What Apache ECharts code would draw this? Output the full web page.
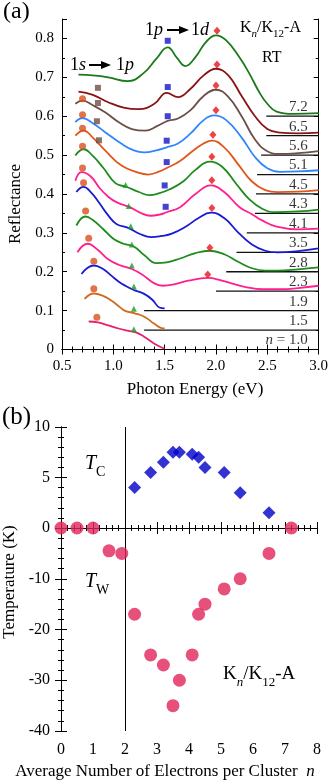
<!DOCTYPE html>
<html><head><meta charset="utf-8">
<script src="https://cdn.jsdelivr.net/npm/echarts/dist/echarts.min.js"></script>
<style>html,body{margin:0;padding:0;background:#fff;}#c{width:331px;height:784px;}</style>
</head><body><div id="c"></div>
<script>
// ---------- Panel (a): reflectance spectra ----------
const nLabels   = ['7.2','6.5','5.6','5.1','4.5','4.3','4.1','3.5','2.8','2.3','1.9','1.5','1.0'];
const baseOffset= [0.60,0.55,0.50,0.45,0.40,0.35,0.30,0.25,0.20,0.15,0.10,0.05,0.00];
const baseStart = [2.49,2.49,2.44,2.40,2.39,2.38,2.30,2.20,2.10,2.00,1.30,1.30,null];

const e72=[0.66,0.80,0.95,1.14,1.30,1.42,1.53,1.62,1.70,1.80,1.90,2.00,2.10,2.23,2.32,2.43,2.50,2.59,2.75,3.00];
const r72=[0.707,0.705,0.700,0.690,0.712,0.748,0.777,0.750,0.729,0.752,0.790,0.808,0.795,0.751,0.712,0.658,0.632,0.612,0.606,0.608];
const e65=[0.66,0.80,0.95,1.10,1.25,1.40,1.52,1.63,1.75,1.88,2.00,2.12,2.25,2.38,2.50,2.62,2.80,3.00];
const r65=[0.663,0.655,0.636,0.622,0.618,0.632,0.660,0.649,0.670,0.705,0.722,0.705,0.652,0.600,0.567,0.558,0.556,0.558];
const e56=[0.63,0.70,0.80,0.92,1.05,1.18,1.31,1.43,1.53,1.63,1.75,1.88,2.00,2.12,2.25,2.38,2.50,2.62,2.80,3.00];
const r56=[0.632,0.640,0.628,0.610,0.585,0.567,0.563,0.575,0.588,0.594,0.615,0.652,0.668,0.650,0.600,0.540,0.510,0.503,0.505,0.510];
const e51=[0.63,0.70,0.80,0.92,1.08,1.20,1.30,1.42,1.52,1.63,1.75,1.88,1.98,2.10,2.25,2.38,2.50,2.62,2.80,3.00];
const r51=[0.585,0.595,0.582,0.559,0.529,0.512,0.507,0.512,0.520,0.530,0.555,0.590,0.602,0.590,0.545,0.495,0.466,0.457,0.458,0.461];
const e45=[0.63,0.71,0.80,0.92,1.08,1.24,1.34,1.45,1.53,1.65,1.78,1.88,1.96,2.08,2.22,2.35,2.48,2.60,2.80,3.00];
const r45=[0.550,0.563,0.545,0.512,0.473,0.455,0.450,0.458,0.468,0.485,0.512,0.530,0.537,0.520,0.475,0.432,0.410,0.405,0.406,0.410];
const e43=[0.63,0.71,0.80,0.90,1.02,1.13,1.25,1.35,1.45,1.55,1.68,1.80,1.94,2.06,2.20,2.33,2.45,2.58,2.80,3.00];
const r43=[0.499,0.515,0.498,0.468,0.428,0.418,0.405,0.397,0.402,0.412,0.432,0.462,0.483,0.470,0.425,0.385,0.362,0.353,0.355,0.360];
const e41=[0.63,0.69,0.78,0.87,0.95,1.03,1.16,1.26,1.36,1.45,1.52,1.65,1.80,1.95,2.08,2.23,2.35,2.45,2.59,2.80,3.00];
const r41=[0.434,0.456,0.445,0.414,0.393,0.379,0.366,0.352,0.344,0.347,0.353,0.366,0.400,0.422,0.405,0.366,0.348,0.332,0.316,0.309,0.311];
const e35=[0.64,0.71,0.78,0.86,0.95,1.03,1.15,1.26,1.37,1.47,1.57,1.70,1.83,1.95,2.08,2.22,2.35,2.48,2.60,2.80,3.00];
const r35=[0.405,0.418,0.405,0.378,0.345,0.323,0.312,0.297,0.289,0.292,0.298,0.315,0.338,0.352,0.338,0.300,0.270,0.254,0.250,0.253,0.260];
const e28=[0.64,0.73,0.80,0.90,1.00,1.10,1.20,1.30,1.42,1.52,1.65,1.80,1.94,2.08,2.22,2.35,2.48,2.60,2.80,3.00];
const r28=[0.319,0.342,0.333,0.310,0.285,0.272,0.265,0.243,0.222,0.224,0.234,0.248,0.254,0.245,0.225,0.209,0.203,0.203,0.206,0.211];
const e23=[0.65,0.75,0.85,0.95,1.05,1.18,1.28,1.40,1.48,1.60,1.73,1.92,2.05,2.15,2.30,2.45,2.64,2.80,3.00];
const r23=[0.250,0.272,0.256,0.232,0.218,0.207,0.193,0.170,0.164,0.168,0.177,0.184,0.178,0.170,0.160,0.155,0.155,0.158,0.164];
const e19=[0.69,0.75,0.81,0.90,0.98,1.05,1.11,1.20,1.30,1.38,1.45,1.50];
const r19=[0.194,0.210,0.216,0.207,0.190,0.175,0.165,0.153,0.143,0.128,0.108,0.106];
const e15=[0.72,0.81,0.90,0.98,1.05,1.11,1.21,1.31,1.40,1.47,1.50];
const r15=[0.130,0.144,0.138,0.126,0.112,0.100,0.093,0.083,0.066,0.055,0.054];
const e10=[0.76,0.85,0.95,1.05,1.15,1.22,1.30,1.40,1.50];
const r10=[0.072,0.070,0.062,0.054,0.048,0.044,0.033,0.015,0.002];

// markers
const diaE=[2.01,2.01,2.00,2.00,1.97,1.96,1.96,1.96,1.94,1.92];
const diaR=[0.820,0.733,0.679,0.615,0.552,0.496,0.435,0.364,0.262,0.193];
const bsqE=[1.53,1.53,1.53,1.52,1.52,1.50,1.51];
const bsqR=[0.794,0.675,0.600,0.537,0.482,0.422,0.367];
const brsqE=[0.85,0.85,0.84,0.86];
const brsqR=[0.673,0.634,0.587,0.538];
const circE=[0.70,0.70,0.70,0.70,0.70,0.71,0.73,0.76,0.81,0.81,0.84];
const circR=[0.645,0.604,0.569,0.523,0.467,0.429,0.356,0.286,0.227,0.156,0.083];
const triE=[1.12,1.15,1.17,1.18,1.18,1.20,1.20,1.20];
const triR=[0.423,0.369,0.317,0.270,0.216,0.162,0.105,0.052];

// ---------- Panel (b): transition temperatures ----------
const tcN=[2.3,2.8,3.2,3.5,3.7,4.1,4.3,4.5,5.1,5.6,6.5];
const tcT=[4.0,5.5,6.5,7.5,7.5,7.3,7.0,6.0,5.5,3.5,1.5];
const twN=[0,0.5,1.0,1.5,1.9,2.3,2.8,3.2,3.5,3.7,4.1,4.3,4.5,5.1,5.6,6.5,7.2];
const twT=[0,0,0,-4.5,-5,-17,-25,-27,-35,-30,-25,-17,-15,-12,-10,-5,0];
const dividerN = 2;

const zip=(a,b)=>a.map((v,i)=>[v,b[i]]);
const FONT='Liberation Serif';

const curves=[
  [e72,r72,'#1b7a1b'],[e65,r65,'#8a1414'],[e56,r56,'#6b5048'],[e51,r51,'#2f86ff'],
  [e45,r45,'#e2561e'],[e43,r43,'#1d8c1d'],[e41,r41,'#ff1f8e'],[e35,r35,'#1a1ad2'],
  [e28,r28,'#1d8c1d'],[e23,r23,'#ff1f8e'],[e19,r19,'#1a1ad2'],[e15,r15,'#d06a1c'],[e10,r10,'#e8206e']
];

const series=[];
curves.forEach(c=>{
  series.push({type:'line',xAxisIndex:0,yAxisIndex:0,data:zip(c[0],c[1]),smooth:0.45,showSymbol:false,
    lineStyle:{color:c[2],width:1.8},silent:true,z:3});
});
baseStart.forEach((s,i)=>{
  if(s===null) return;
  series.push({type:'line',xAxisIndex:0,yAxisIndex:0,data:[[s,baseOffset[i]],[3.0,baseOffset[i]]],showSymbol:false,
    lineStyle:{color:'#111',width:1.3},silent:true,z:2});
});
series.push({type:'scatter',xAxisIndex:0,yAxisIndex:0,symbolSize:1,itemStyle:{color:'rgba(0,0,0,0)'},silent:true,z:4,
  data:nLabels.map((t,i)=>[2.893,baseOffset[i],t]),
  label:{show:true,position:'top',align:'right',distance:1,fontFamily:FONT,fontSize:15,color:'#000',
    formatter:p=>p.data[2]==='1.0'?'{i|n} = 1.0':p.data[2],
    rich:{i:{fontFamily:FONT,fontStyle:'italic',fontSize:15,color:'#000'}}}});
const mk=(e,r,sym,size,color)=>({type:'scatter',xAxisIndex:0,yAxisIndex:0,data:zip(e,r),symbol:sym,symbolSize:size,
  itemStyle:{color:color},silent:true,z:5,clip:false});
series.push(mk(diaE,diaR,'diamond',[7,8],'#e8141a'));
series.push(mk(bsqE,bsqR,'rect',6,'#1414c8'));
series.push(mk(brsqE,brsqR,'rect',6,'#6e4e44'));
series.push(mk(circE,circR,'circle',7,'#d8501e'));
series.push(mk(triE,triR,'triangle',6,'#1e9a2a'));

const vline={silent:true,symbol:'none',label:{show:false},lineStyle:{color:'#000',width:1,type:'solid'},data:[{xAxis:dividerN}],animation:false};
series.push({type:'scatter',xAxisIndex:2,yAxisIndex:2,data:zip(tcN,tcT),symbol:'diamond',symbolSize:13,
  itemStyle:{color:'#0000c8'},clip:false,silent:true,z:5,markLine:vline});
series.push({type:'scatter',xAxisIndex:4,yAxisIndex:4,data:zip(twN,twT),symbol:'circle',symbolSize:13,
  itemStyle:{color:'#e0245a'},clip:false,silent:true,z:5,markLine:vline});

const axLine={show:true,lineStyle:{color:'#000',width:1}};
const lblA={color:'#000',fontFamily:FONT,fontSize:15};
const lblB={color:'#000',fontFamily:FONT,fontSize:16};
const tickIn=(len)=>({show:true,inside:true,length:len,lineStyle:{color:'#000',width:1}});
const minor=(n,len)=>({show:true,splitNumber:n,length:len,lineStyle:{color:'#000',width:1}});

const option={
  animation:false,
  grid:[
    {left:62,top:19,width:257.5,height:330.5},
    {left:61,top:427,width:256,height:101},
    {left:61,top:528,width:256,height:203}
  ],
  xAxis:[
    {gridIndex:0,type:'value',position:'bottom',min:0.5,max:3.0,interval:0.5,axisLine:axLine,axisTick:tickIn(5),
      minorTick:minor(5,3),splitLine:{show:false},axisLabel:Object.assign({margin:9,formatter:v=>v.toFixed(1)},lblA)},
    {gridIndex:0,type:'value',position:'top',min:0.5,max:3.0,interval:0.5,axisLine:axLine,axisTick:tickIn(5),
      minorTick:minor(5,3),splitLine:{show:false},axisLabel:{show:false}},
    {gridIndex:1,type:'value',position:'top',min:0,max:8,interval:1,axisLine:axLine,axisTick:tickIn(6),
      minorTick:minor(5,3),splitLine:{show:false},axisLabel:{show:false}},
    {gridIndex:1,type:'value',position:'bottom',min:0,max:8,show:false},
    {gridIndex:2,type:'value',position:'bottom',min:0,max:8,interval:1,axisLine:axLine,axisTick:tickIn(6),
      minorTick:minor(5,3),splitLine:{show:false},axisLabel:Object.assign({margin:11},lblB)},
    {gridIndex:2,type:'value',position:'top',min:0,max:8,axisLine:axLine,axisTick:{show:false},
      splitLine:{show:false},axisLabel:{show:false}}
  ],
  yAxis:[
    {gridIndex:0,type:'value',position:'left',min:0,max:0.85,interval:0.1,axisLine:axLine,axisTick:tickIn(5),
      minorTick:minor(2,3),splitLine:{show:false},
      axisLabel:Object.assign({margin:8,showMaxLabel:false,formatter:v=>v===0?'0':v.toFixed(1)},lblA)},
    {gridIndex:0,type:'value',position:'right',min:0,max:0.85,interval:0.1,axisLine:axLine,axisTick:tickIn(5),
      minorTick:minor(2,3),splitLine:{show:false},axisLabel:{show:false}},
    {gridIndex:1,type:'value',position:'left',min:0,max:10,interval:5,axisLine:axLine,axisTick:tickIn(6),
      minorTick:minor(5,3),splitLine:{show:false},axisLabel:Object.assign({margin:11},lblB)},
    {gridIndex:1,type:'value',position:'right',min:0,max:10,interval:5,axisLine:axLine,axisTick:tickIn(6),
      minorTick:minor(5,3),splitLine:{show:false},axisLabel:{show:false}},
    {gridIndex:2,type:'value',position:'left',min:-40,max:0,interval:10,axisLine:axLine,axisTick:tickIn(6),
      minorTick:minor(5,3),splitLine:{show:false},axisLabel:Object.assign({margin:11,showMaxLabel:false},lblB)},
    {gridIndex:2,type:'value',position:'right',min:-40,max:0,interval:10,axisLine:axLine,axisTick:tickIn(6),
      minorTick:minor(5,3),splitLine:{show:false},axisLabel:{show:false}}
  ],
  series:series,
  graphic:[
    {type:'text',left:3,top:0,style:{text:'(a)',font:'24px "Liberation Serif"',fill:'#000'}},
    {type:'text',left:2,top:405,style:{text:'(b)',font:'25px "Liberation Serif"',fill:'#000'}},
    // 1s -> 1p
    {type:'text',x:70,y:65,style:{text:'{r|1}{i|s}',verticalAlign:'middle',rich:{r:{fontFamily:FONT,fontSize:18,fill:'#000'},i:{fontFamily:FONT,fontStyle:'italic',fontSize:18,fill:'#000'}}}},
    {type:'line',shape:{x1:89,y1:65,x2:103,y2:65},style:{stroke:'#000',lineWidth:2}},
    {type:'polygon',shape:{points:[[101,61],[111,65],[101,69]]},style:{fill:'#000'}},
    {type:'text',x:116,y:65,style:{text:'{r|1}{i|p}',verticalAlign:'middle',rich:{r:{fontFamily:FONT,fontSize:18,fill:'#000'},i:{fontFamily:FONT,fontStyle:'italic',fontSize:18,fill:'#000'}}}},
    // 1p -> 1d
    {type:'text',x:145,y:30,style:{text:'{r|1}{i|p}',verticalAlign:'middle',rich:{r:{fontFamily:FONT,fontSize:18,fill:'#000'},i:{fontFamily:FONT,fontStyle:'italic',fontSize:18,fill:'#000'}}}},
    {type:'line',shape:{x1:167,y1:30,x2:181,y2:30},style:{stroke:'#000',lineWidth:2}},
    {type:'polygon',shape:{points:[[179,26],[189,30],[179,34]]},style:{fill:'#000'}},
    {type:'text',x:191,y:30,style:{text:'{r|1}{i|d}',verticalAlign:'middle',rich:{r:{fontFamily:FONT,fontSize:18,fill:'#000'},i:{fontFamily:FONT,fontStyle:'italic',fontSize:18,fill:'#000'}}}},
    // Kn/K12-A RT
    {type:'text',x:240,y:36,style:{text:'{r|K}{s|n}{r|/K}{t|12}{r|-A}',verticalAlign:'bottom',
      rich:{r:{fontFamily:FONT,fontSize:16,fill:'#000'},s:{fontFamily:FONT,fontStyle:'italic',fontSize:11,fill:'#000',verticalAlign:'bottom',padding:[0,0,-4,0]},t:{fontFamily:FONT,fontSize:11,fill:'#000',verticalAlign:'bottom',padding:[0,0,-4,0]}}}},
    {type:'text',x:262,y:58,style:{text:'RT',verticalAlign:'middle',font:'16px "Liberation Serif"',fill:'#000'}},
    // panel b labels
    {type:'text',x:85,y:474,style:{text:'{i|T}{s|C}',verticalAlign:'bottom',
      rich:{i:{fontFamily:FONT,fontStyle:'italic',fontSize:20,fill:'#000'},s:{fontFamily:FONT,fontSize:14,fill:'#000',verticalAlign:'bottom',padding:[0,0,-5,0]}}}},
    {type:'text',x:85,y:592,style:{text:'{i|T}{s|W}',verticalAlign:'bottom',
      rich:{i:{fontFamily:FONT,fontStyle:'italic',fontSize:20,fill:'#000'},s:{fontFamily:FONT,fontSize:14,fill:'#000',verticalAlign:'bottom',padding:[0,0,-5,0]}}}},
    {type:'text',x:223,y:684,style:{text:'{r|K}{s|n}{r|/K}{t|12}{r|-A}',verticalAlign:'bottom',
      rich:{r:{fontFamily:FONT,fontSize:19,fill:'#000'},s:{fontFamily:FONT,fontStyle:'italic',fontSize:13,fill:'#000',verticalAlign:'bottom',padding:[0,0,-5,0]},t:{fontFamily:FONT,fontSize:13,fill:'#000',verticalAlign:'bottom',padding:[0,0,-5,0]}}}},
    // axis names
    {type:'text',x:195,y:390,style:{text:'Photon Energy (eV)',align:'center',verticalAlign:'middle',font:'17px "Liberation Serif"',fill:'#000'}},
    {type:'text',x:165,y:772,style:{text:'{r|Average Number of Electrons per Cluster  }{i|n}',align:'center',verticalAlign:'middle',
      rich:{r:{fontFamily:FONT,fontSize:17,fill:'#000'},i:{fontFamily:FONT,fontStyle:'italic',fontSize:17,fill:'#000'}}}},
    {type:'text',x:16,y:204,rotation:Math.PI/2,style:{text:'Reflectance',align:'center',verticalAlign:'middle',font:'17px "Liberation Serif"',fill:'#000'}},
    {type:'text',x:10,y:582,rotation:Math.PI/2,style:{text:'Temperature (K)',align:'center',verticalAlign:'middle',font:'17px "Liberation Serif"',fill:'#000'}}
  ]
};
const chart=echarts.init(document.getElementById('c'),null,{renderer:'canvas'});
chart.setOption(option);
</script></body></html>
